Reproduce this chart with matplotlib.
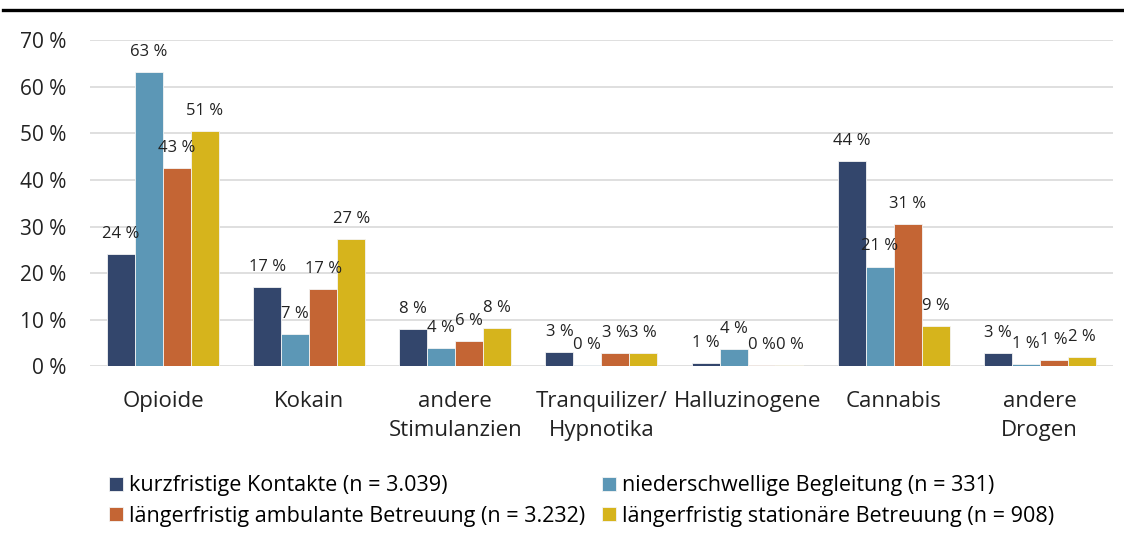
import numpy as np
import matplotlib
matplotlib.use("Agg")
import matplotlib.pyplot as plt
from matplotlib.lines import Line2D

plt.rcParams['font.family'] = ['Open Sans', 'DejaVu Sans']

# categories (x axis)
categories = ["Opioide", "Kokain", "andere\nStimulanzien", "Tranquilizer/\nHypnotika",
              "Halluzinogene", "Cannabis", "andere\nDrogen"]

# series values in percent
kurzfristig = [24.1, 17.0, 7.9, 3.1, 0.7, 44.0, 2.9]
niederschwellig = [63.2, 6.9, 3.9, 0.3, 3.7, 21.4, 0.5]
ambulant = [42.6, 16.6, 5.5, 2.9, 0.3, 30.6, 1.4]
stationaer = [50.5, 27.3, 8.2, 2.9, 0.2, 8.7, 1.9]

# labels printed above the bars
lab_kurz = ["24 %", "17 %", "8 %", "3 %", "1 %", "44 %", "3 %"]
lab_nied = ["63 %", "7 %", "4 %", "0 %", "4 %", "21 %", "1 %"]
lab_amb = ["43 %", "17 %", "6 %", "3 %", "0 %", "31 %", "1 %"]
lab_stat = ["51 %", "27 %", "8 %", "3 %", "0 %", "9 %", "2 %"]

series_names = ["kurzfristige Kontakte (n = 3.039)",
                "niederschwellige Begleitung (n = 331)",
                "längerfristig ambulante Betreuung (n = 3.232)",
                "längerfristig stationäre Betreuung (n = 908)"]
colors = ["#33466C", "#5C97B6", "#C46534", "#D6B41C"]

yticks = [0, 10, 20, 30, 40, 50, 60, 70]
ytick_labels = ["0 %", "10 %", "20 %", "30 %", "40 %", "50 %", "60 %", "70 %"]

fig = plt.figure(figsize=(11.24, 5.42), dpi=100)
ax = fig.add_axes([0.0801, 0.3242, 0.9099, 0.6014])

x = np.arange(len(categories))
w = 0.1915
all_vals = [kurzfristig, niederschwellig, ambulant, stationaer]
all_labs = [lab_kurz, lab_nied, lab_amb, lab_stat]
bars = []
for i, (vals, labs) in enumerate(zip(all_vals, all_labs)):
    pos = x + (i - 1.5) * w
    b = ax.bar(pos, vals, width=w, color=colors[i], edgecolor="#f4f4f4",
               linewidth=0.6, zorder=3, label=series_names[i])
    bars.append(b)
    for px, v, t in zip(pos, vals, labs):
        ax.annotate(t, (px, v), xytext=(0, 14.5), textcoords="offset points",
                    ha="center", va="center", fontsize=12, color="#222222", zorder=4)

ax.set_xlim(-0.5, 6.5)
ax.set_ylim(0, 70)
ax.set_yticks(yticks)
ax.set_yticklabels(ytick_labels)
ax.set_xticks(x)
ax.set_xticklabels(categories, linespacing=1.5)
ax.tick_params(axis="y", length=0, pad=17, labelsize=15, labelcolor="#222222")
ax.tick_params(axis="x", length=0, pad=17.5, labelsize=16, labelcolor="#222222")
ax.grid(axis="y", color="#D9D9D9", linewidth=1.2, zorder=0)
for s in ax.spines.values():
    s.set_visible(False)

# heavy rule on top of the figure
fig.add_artist(Line2D([0.003, 1.0], [0.982, 0.982], transform=fig.transFigure,
                      color="black", linewidth=2.4))

handles = [bars[0], bars[2], bars[1], bars[3]]
labels = [series_names[0], series_names[2], series_names[1], series_names[3]]
fig.legend(handles, labels, loc="upper left", bbox_to_anchor=(0.097, 0.123),
           ncol=2, frameon=False, fontsize=15.5, borderpad=0, borderaxespad=0,
           handlelength=0.63, handleheight=0.63, handletextpad=0.3,
           columnspacing=0.8, labelspacing=0.45)

fig.savefig("out.png", dpi=100)
